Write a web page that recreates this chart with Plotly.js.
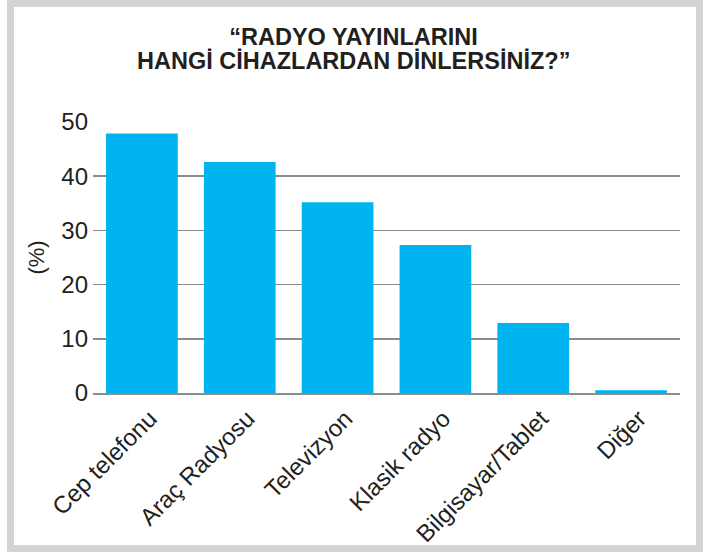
<!DOCTYPE html>
<html>
<head>
<meta charset="utf-8">
<script src="https://cdn.plot.ly/plotly-3.0.1.min.js"></script>
<style>
  html, body { margin: 0; padding: 0; background: #ffffff; }
  #wrap { position: relative; width: 707px; height: 555px; overflow: hidden; }
  #chart { position: absolute; left: 0; top: 0; width: 707px; height: 555px; }
  #frame { position: absolute; left: 7px; top: 0px; width: 682px; height: 538px;
           border: 7px solid #d1d3d4; pointer-events: none; }
</style>
</head>
<body>
<div id="wrap">
  <div id="chart"></div>
  <div id="frame"></div>
</div>
<script>
const categories = ["Cep telefonu", "Araç Radyosu", "Televizyon", "Klasik radyo", "Bilgisayar/Tablet", "Diğer"];
const values = [47.9, 42.6, 35.2, 27.3, 12.9, 0.5];
const yTicks = [0, 10, 20, 30, 40, 50];
const titleLine1 = "“RADYO YAYINLARINI";
const titleLine2 = "HANGİ CİHAZLARDAN DİNLERSİNİZ?”";

const textColor = "#231f20";
const fontFam = "Liberation Sans, Arial, Helvetica, sans-serif";
const titleFont = { family: fontFam, size: 23.5, color: textColor, weight: "bold" };

const trace = {
  type: "bar",
  x: categories,
  y: values,
  marker: { color: "#00b5ef" },
  hoverinfo: "x+y"
};

const layout = {
  width: 707,
  height: 555,
  margin: { l: 93, r: 27, t: 122, b: 162 },
  paper_bgcolor: "rgba(0,0,0,0)",
  plot_bgcolor: "rgba(0,0,0,0)",
  showlegend: false,
  bargap: 0.267,
  title: {
    text: titleLine1,
    font: titleFont,
    x: 0.5, xref: "container", xanchor: "center",
    y: 1 - 37 / 555, yref: "container", yanchor: "middle"
  },
  annotations: [{
    text: titleLine2,
    font: titleFont,
    showarrow: false,
    xref: "paper", yref: "paper",
    x: (353.5 - 93) / 587, xanchor: "center",
    y: 1 + (122 - 61) / 271, yanchor: "middle"
  }],
  xaxis: {
    type: "category",
    range: [-0.5, 5.5],
    tickangle: -45,
    ticks: "",
    ticklabelshift: 8,
    showgrid: false,
    showline: true,
    linecolor: "rgba(0,0,0,0.45)",
    linewidth: 2,
    layer: "above traces",
    tickfont: { family: fontFam, size: 24, color: textColor }
  },
  yaxis: {
    range: [0, 50],
    tickvals: yTicks,
    ticktext: yTicks.map(String),
    ticks: "",
    ticklabelstandoff: 4,
    showgrid: true,
    gridcolor: "#8a8a8a",
    gridwidth: 1.5,
    zeroline: false,
    showline: false,
    tickfont: { family: fontFam, size: 24, color: textColor },
    title: {
      text: "(%)",
      font: { family: fontFam, size: 22, color: textColor },
      standoff: 10
    }
  }
};

Plotly.newPlot("chart", [trace], layout, { displayModeBar: false, staticPlot: true });
</script>
</body>
</html>
